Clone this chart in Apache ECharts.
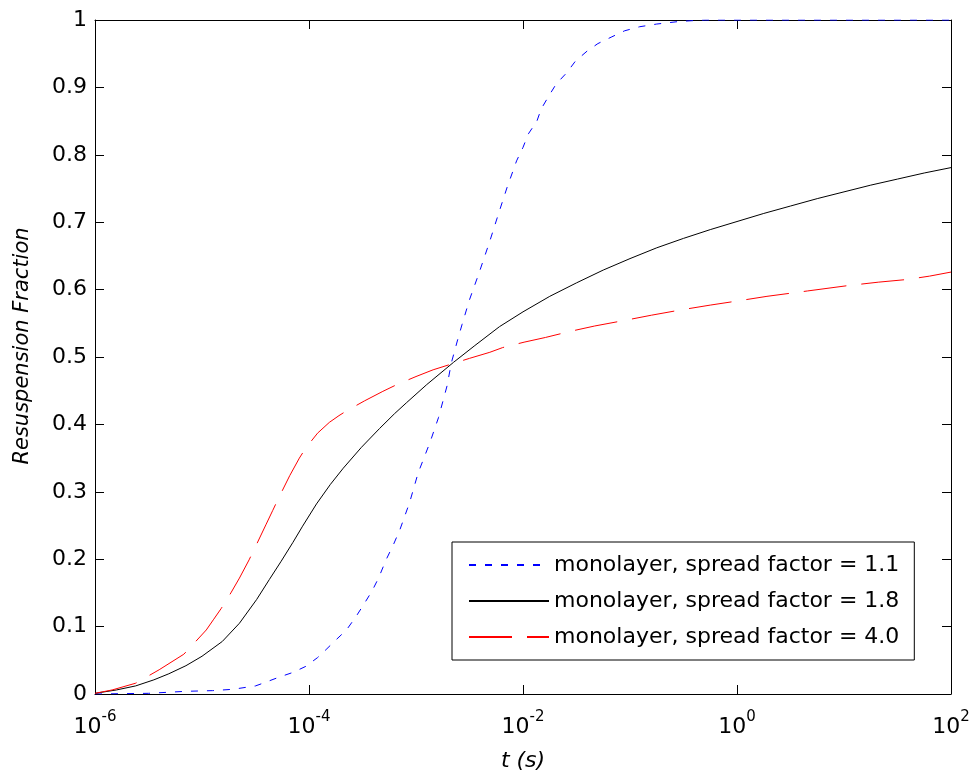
<!DOCTYPE html>
<html>
<head>
<meta charset="utf-8">
<script src="https://cdn.jsdelivr.net/npm/echarts@6/dist/echarts.min.js"></script>
<style>
html,body{margin:0;padding:0;background:#fff;}
#chart{width:975px;height:778px;}
</style>
</head>
<body>
<div id="chart"></div>
<script>
// x values are log10(t / s)
const xTickExponents = [-6, -4, -2, 0, 2];
const seriesNames = [
  'monolayer, spread factor = 1.1',
  'monolayer, spread factor = 1.8',
  'monolayer, spread factor = 4.0'
];
const logT_sf11 = [-6,-5.5,-5.15,-4.9,-4.71,-4.5,-4.43,-4.28,-4.15,-4.03,-3.92,-3.84,-3.75,-3.65,-3.56,-3.48,-3.41,-3.35,-3.28,-3.21,-3.15,-3.06,-2.98,-2.87,-2.79,-2.71,-2.67,-2.61,-2.57,-2.50,-2.41,-2.31,-2.23,-2.15,-2.06,-2.00,-1.95,-1.87,-1.83,-1.76,-1.69,-1.59,-1.51,-1.40,-1.30,-1.17,-1.05,-0.91,-0.75,-0.53,-0.3,0,1,2];
const frac_sf11 = [0,0.001,0.004,0.005,0.007,0.012,0.016,0.025,0.032,0.041,0.054,0.066,0.080,0.095,0.115,0.135,0.153,0.172,0.199,0.222,0.244,0.284,0.328,0.373,0.410,0.457,0.491,0.526,0.548,0.585,0.625,0.672,0.712,0.751,0.791,0.811,0.831,0.850,0.868,0.887,0.905,0.922,0.939,0.954,0.965,0.975,0.984,0.990,0.994,0.998,1.0,1.0,1.0,1.0];
const logT_sf18 = [-6,-5.8,-5.62,-5.45,-5.31,-5.15,-5.00,-4.81,-4.65,-4.49,-4.37,-4.26,-4.15,-4.06,-3.93,-3.80,-3.68,-3.51,-3.34,-3.20,-3.09,-2.90,-2.65,-2.45,-2.22,-2.0,-1.75,-1.5,-1.25,-1.0,-0.75,-0.5,-0.25,0,0.25,0.5,0.75,1.0,1.25,1.5,1.75,2.0];
const frac_sf18 = [0.001,0.006,0.012,0.021,0.030,0.042,0.056,0.078,0.105,0.140,0.170,0.197,0.225,0.249,0.282,0.311,0.335,0.366,0.394,0.416,0.432,0.459,0.492,0.517,0.545,0.567,0.590,0.610,0.629,0.646,0.662,0.676,0.689,0.701,0.713,0.724,0.735,0.745,0.755,0.764,0.773,0.781];
const logT_sf40 = [-6,-5.84,-5.62,-5.40,-5.17,-5.07,-4.96,-4.89,-4.82,-4.73,-4.65,-4.56,-4.49,-4.40,-4.34,-4.28,-4.18,-4.09,-4.03,-3.92,-3.81,-3.72,-3.65,-3.48,-3.31,-3.18,-3.00,-2.84,-2.68,-2.50,-2.31,-2.19,-1.99,-1.79,-1.56,-1.33,-1.06,-0.80,-0.52,-0.25,0,0.28,0.66,1.04,1.32,1.59,1.80,2.0];
const frac_sf40 = [0.001,0.006,0.016,0.036,0.059,0.076,0.095,0.111,0.127,0.150,0.172,0.199,0.222,0.252,0.272,0.292,0.324,0.350,0.365,0.387,0.403,0.413,0.420,0.435,0.449,0.459,0.471,0.481,0.489,0.498,0.507,0.514,0.522,0.529,0.538,0.546,0.554,0.562,0.570,0.577,0.583,0.590,0.598,0.606,0.611,0.615,0.620,0.626];

const FONT = "'DejaVu Sans', sans-serif";
const pair = (xs, ys) => xs.map((x, i) => [x, ys[i]]);

const chart = echarts.init(document.getElementById('chart'), null, {renderer: 'canvas'});
const axisLineStyle = {color: '#000', width: 1};
const tickStyle = {color: '#000', width: 1};

function lineSeries(name, xs, ys, color, dash) {
  return {
    name: name,
    type: 'line',
    data: pair(xs, ys),
    showSymbol: false,
    symbol: 'none',
    smooth: false,
    color: color,
    itemStyle: {color: color},
    lineStyle: {color: color, width: 1, type: dash},
    emphasis: {disabled: true},
    z: 2
  };
}

chart.setOption({
  animation: false,
  backgroundColor: '#fff',
  grid: {left: 95, right: 24, top: 20, bottom: 84, containLabel: false},
  xAxis: [{
    type: 'value', min: -6, max: 2, interval: 2, position: 'bottom',
    axisLine: {show: true, onZero: false, lineStyle: axisLineStyle},
    axisTick: {show: true, inside: true, length: 9, lineStyle: tickStyle},
    splitLine: {show: false},
    axisLabel: {
      margin: 16, color: '#000',
      formatter: function (v) { return '{b|10}{s|' + v + '}'; },
      rich: {
        b: {fontSize: 22, fontFamily: FONT, color: '#000', lineHeight: 28, verticalAlign: 'bottom'},
        s: {fontSize: 15, fontFamily: FONT, color: '#000', lineHeight: 15, verticalAlign: 'top'}
      }
    },
    name: 't (s)', nameLocation: 'middle', nameGap: 56,
    nameTextStyle: {fontStyle: 'italic', fontSize: 22, fontFamily: FONT, color: '#000'}
  }, {
    type: 'value', min: -6, max: 2, interval: 2, position: 'top',
    axisLine: {show: true, onZero: false, lineStyle: axisLineStyle},
    axisTick: {show: true, inside: true, length: 9, lineStyle: tickStyle},
    axisLabel: {show: false}, splitLine: {show: false}
  }],
  yAxis: [{
    type: 'value', min: 0, max: 1, interval: 0.1, position: 'left',
    axisLine: {show: true, onZero: false, lineStyle: axisLineStyle},
    axisTick: {show: true, inside: true, length: 9, lineStyle: tickStyle},
    splitLine: {show: false},
    axisLabel: {margin: 8, fontSize: 22, fontFamily: FONT, color: '#000'},
    name: 'Resuspension Fraction', nameLocation: 'middle', nameGap: 62,
    nameTextStyle: {fontStyle: 'italic', fontSize: 21, fontFamily: FONT, color: '#000', padding: [0, 0, 0, 22]}
  }, {
    type: 'value', min: 0, max: 1, interval: 0.1, position: 'right',
    axisLine: {show: true, onZero: false, lineStyle: axisLineStyle},
    axisTick: {show: true, inside: true, length: 9, lineStyle: tickStyle},
    axisLabel: {show: false}, splitLine: {show: false}
  }],
  legend: {
    data: seriesNames,
    orient: 'vertical',
    left: 452, top: 542,
    padding: [12, 15, 12, 16],
    itemGap: 14,
    itemWidth: 80, itemHeight: 22,
    itemStyle: {opacity: 0},
    backgroundColor: '#fff',
    borderColor: '#000', borderWidth: 1,
    textStyle: {fontSize: 22, fontFamily: FONT, color: '#000'},
    selectedMode: false
  },
  series: [
    lineSeries(seriesNames[0], logT_sf11, frac_sf11, '#0000ff', [7, 9]),
    lineSeries(seriesNames[1], logT_sf18, frac_sf18, '#000000', 'solid'),
    lineSeries(seriesNames[2], logT_sf40, frac_sf40, '#ff0000', [43, 15])
  ]
});
</script>
</body>
</html>
